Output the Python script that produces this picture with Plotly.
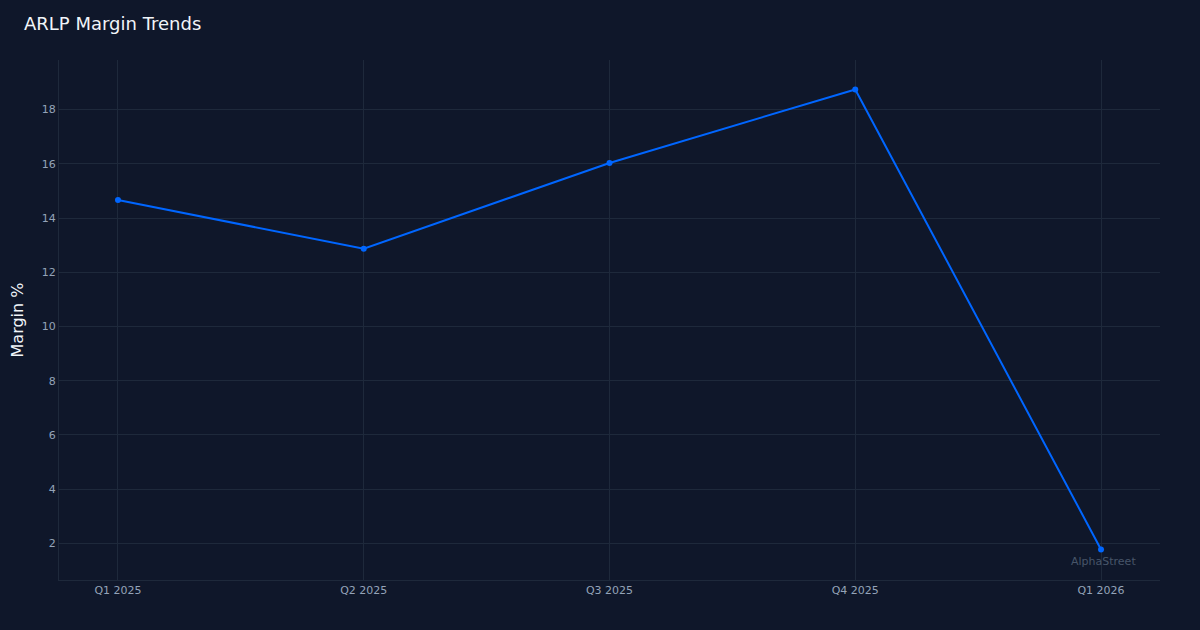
import plotly.graph_objects as go

quarters = ["Q1 2025", "Q2 2025", "Q3 2025", "Q4 2025", "Q1 2026"]
margins = [14.66, 12.87, 16.03, 18.74, 1.78]
y_ticks = [2, 4, 6, 8, 10, 12, 14, 16, 18]

BG = "#0f172a"
GRID = "#1e293b"
TICK = "#94a3b8"
LINE = "#0066ff"
FONT = "DejaVu Sans"

fig = go.Figure()
fig.add_trace(go.Scatter(
    x=quarters, y=margins, mode="lines+markers",
    line=dict(color=LINE, width=2),
    marker=dict(color=LINE, size=6),
    showlegend=False,
))

fig.update_layout(
    width=1200, height=630,
    paper_bgcolor=BG, plot_bgcolor=BG,
    margin=dict(l=59, r=40, t=60, b=50),
    font=dict(family=FONT, color=TICK, size=11),
    title=dict(text="ARLP Margin Trends", x=0.02, xanchor="left", y=0.962, yanchor="middle",
               font=dict(family=FONT, size=18, color="#f1f5f9")),
    xaxis=dict(
        type="category", range=[-0.24, 4.24],
        showgrid=True, gridcolor=GRID, gridwidth=1,
        showline=True, linecolor=GRID, linewidth=1,
        zeroline=False, ticks="", tickfont=dict(size=11, color=TICK),
    ),
    yaxis=dict(
        range=[0.654, 19.825], tickvals=y_ticks,
        showgrid=True, gridcolor=GRID, gridwidth=1,
        showline=True, linecolor=GRID, linewidth=1,
        zeroline=False, ticks="", tickfont=dict(size=11, color=TICK),
        title=dict(text="Margin %", font=dict(family=FONT, size=16, color="#f1f5f9"), standoff=14),
    ),
    annotations=[dict(
        text="AlphaStreet", xref="paper", yref="paper", x=0.98, y=0.02,
        xanchor="right", yanchor="bottom", showarrow=False,
        font=dict(family=FONT, size=11, color="#475569"),
    )],
)

fig.write_html(
    "out.html",
    config={"displayModeBar": False},
    post_script="document.body.style.margin='0';document.body.style.background='" + BG + "';",
)
